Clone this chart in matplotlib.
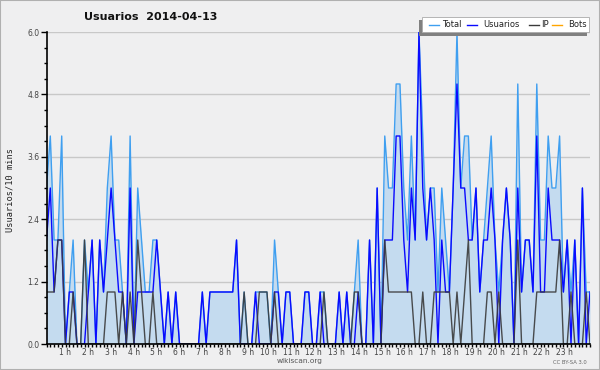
import numpy as np
import matplotlib
matplotlib.use("Agg")
import matplotlib.pyplot as plt
from matplotlib.patches import Rectangle
from matplotlib.lines import Line2D
import matplotlib.transforms as mtransforms

# 10-minute buckets for 2014-04-13 (144 values per series)
total = [
    3, 4, 2, 2, 4, 0, 1, 2, 0, 0,
    2, 1, 2, 0, 2, 1, 3, 4, 2, 2,
    1, 0, 4, 0, 3, 2, 1, 1, 2, 2,
    1, 0, 1, 0, 1, 0, 0, 0, 0, 0,
    0, 1, 0, 1, 1, 1, 1, 1, 1, 1,
    2, 0, 1, 0, 0, 1, 1, 1, 1, 0,
    2, 1, 0, 1, 1, 0, 0, 0, 1, 1,
    0, 0, 1, 1, 0, 0, 0, 1, 0, 1,
    0, 1, 2, 0, 0, 2, 0, 3, 0, 4,
    3, 3, 5, 5, 3, 2, 4, 2, 6, 4,
    2, 3, 3, 1, 3, 2, 1, 3, 6, 3,
    4, 4, 2, 3, 1, 2, 3, 4, 2, 1,
    2, 3, 2, 0, 5, 1, 2, 2, 1, 5,
    2, 2, 4, 3, 3, 4, 1, 2, 1, 2,
    0, 3, 1, 1,
]
usuarios = [
    2, 3, 1, 2, 2, 0, 1, 1, 0, 0,
    0, 1, 2, 0, 2, 1, 2, 3, 2, 1,
    1, 0, 3, 0, 1, 1, 1, 1, 1, 2,
    1, 0, 1, 0, 1, 0, 0, 0, 0, 0,
    0, 1, 0, 1, 1, 1, 1, 1, 1, 1,
    2, 0, 0, 0, 0, 1, 0, 0, 0, 0,
    1, 1, 0, 1, 1, 0, 0, 0, 1, 1,
    0, 0, 1, 0, 0, 0, 0, 1, 0, 1,
    0, 0, 1, 0, 0, 2, 0, 3, 0, 2,
    2, 2, 4, 4, 2, 1, 3, 2, 6, 3,
    2, 3, 2, 0, 2, 1, 1, 3, 5, 3,
    3, 2, 2, 3, 1, 2, 2, 3, 2, 0,
    2, 3, 2, 0, 3, 1, 2, 2, 1, 4,
    1, 1, 3, 2, 2, 2, 1, 2, 0, 2,
    0, 3, 0, 1,
]
ip = [
    1, 1, 1, 2, 2, 0, 0, 1, 0, 0,
    2, 0, 0, 0, 0, 0, 1, 1, 1, 0,
    1, 0, 1, 0, 2, 1, 0, 0, 1, 0,
    0, 0, 0, 0, 0, 0, 0, 0, 0, 0,
    0, 0, 0, 0, 0, 0, 0, 0, 0, 0,
    0, 0, 1, 0, 0, 0, 1, 1, 1, 0,
    1, 0, 0, 0, 0, 0, 0, 0, 0, 0,
    0, 0, 0, 1, 0, 0, 0, 0, 0, 0,
    0, 1, 1, 0, 0, 0, 0, 0, 0, 2,
    1, 1, 1, 1, 1, 1, 1, 0, 0, 1,
    0, 0, 1, 1, 1, 1, 1, 0, 1, 0,
    1, 2, 0, 0, 0, 0, 1, 1, 0, 1,
    0, 0, 0, 0, 2, 0, 0, 0, 0, 1,
    1, 1, 1, 1, 1, 2, 0, 0, 1, 0,
    0, 0, 1, 0,
]
bots = [0] * 144  # no bot activity that day

hours = list(range(1, 24))
hour_labels = [f"{h} h" for h in hours]
y_ticks = [0.0, 1.2, 2.4, 3.6, 4.8, 6.0]

BG = "#efeff0"
C_TOTAL = "#3f9ff0"
C_FILL = "#c4dbef"
C_USERS = "#0a0aff"
C_IP = "#3a3a3a"
C_BOTS = "#ffa500"

W, H = 600, 370
fig = plt.figure(figsize=(W / 100, H / 100), dpi=100, facecolor=BG)


def fx(px):
    return px / W


def fy(py):
    return 1 - py / H


ax = fig.add_axes([fx(46.5), fy(344), fx(590) - fx(46.5), fy(32) - fy(344)])
ax.set_facecolor(BG)

x = np.arange(len(total))
# bots sit at zero the whole day, hidden under the x axis line
ax.plot(x, bots, color=C_BOTS, lw=0.5, zorder=0.3)
ax.fill_between(x, total, color=C_FILL, lw=0, zorder=1)
ax.plot(x, total, color=C_TOTAL, lw=1, zorder=2)
ax.plot(x, usuarios, color=C_USERS, lw=1, zorder=3)
ax.plot(x, ip, color=C_IP, lw=1, alpha=0.9, zorder=4)

ax.set_xlim(0, len(total) - 1)
ax.set_ylim(0, 6.0)

# grid + spines
for v in y_ticks[1:]:
    ax.axhline(v, color="#c8c8c8", lw=1, zorder=0.5)
for s in ("top", "right"):
    ax.spines[s].set_visible(False)
for s in ("left", "bottom"):
    ax.spines[s].set_color("black")
    ax.spines[s].set_linewidth(1.2)
    ax.spines[s].set_zorder(6)

ax.set_yticks(y_ticks)
ax.set_yticklabels([f"{v:.1f}" for v in y_ticks])
ax.set_yticks(np.arange(0, 6.01, 0.3), minor=True)
ax.tick_params(axis="y", which="major", length=4, width=1, pad=1,
               labelsize=5.5, labelcolor="#444444")
ax.tick_params(axis="y", which="minor", length=2.5, width=1)

ax.set_xticks([h * 6 for h in hours])
ax.set_xticklabels(hour_labels)
ax.set_xticks(x, minor=True)
ax.tick_params(axis="x", which="both", length=2.2, width=1, pad=0.6,
               labelsize=5.5, labelcolor="#444444")
shift = mtransforms.ScaledTranslation(2 / 100, 0, fig.dpi_scale_trans)
for lab in ax.get_xticklabels():
    lab.set_horizontalalignment("right")
    lab.set_transform(lab.get_transform() + shift)

# texts
fig.text(fx(151), fy(16.5), "Usuarios  2014-04-13", ha="center", va="center",
         fontsize=8, fontweight="bold", color="#111111")
fig.text(fx(10), fy(190), "Usuarios/10 mins", rotation=90, ha="center",
         va="center", fontsize=6.2, family="DejaVu Sans Mono", color="#222222")
fig.text(fx(300), fy(361.5), "wikiscan.org", ha="center", va="center",
         fontsize=5.3, color="#555555")
fig.text(fx(570), fy(362), "CC BY-SA 3.0", ha="center", va="center",
         fontsize=3.8, color="#666666")

# legend box with grey shadow (left/bottom)
fig.patches.append(Rectangle((fx(419.3), fy(35.5)), fx(587) - fx(419.3),
                             fy(20) - fy(35.5), transform=fig.transFigure,
                             facecolor="#808080", edgecolor="none", zorder=10))
fig.patches.append(Rectangle((fx(421.7), fy(32.3)), fx(589.3) - fx(421.7),
                             fy(17.3) - fy(32.3), transform=fig.transFigure,
                             facecolor="white", edgecolor="#aaaaaa", lw=0.6,
                             zorder=11))
entries = [("Total", C_TOTAL, 429, 442), ("Usuarios", C_USERS, 467, 483),
           ("IP", C_IP, 529, 541.5), ("Bots", C_BOTS, 552, 568)]
for name, col, lx, tx in entries:
    fig.lines.append(Line2D([fx(lx), fx(lx + 10)], [fy(24.5), fy(24.5)],
                            transform=fig.transFigure, color=col, lw=1,
                            zorder=12))
    fig.text(fx(tx), fy(24.8), name, ha="left", va="center", fontsize=6,
             color="#222222", zorder=12)

# outer border
fig.patches.append(Rectangle((0, 0), 1, 1, transform=fig.transFigure,
                             facecolor="none", edgecolor="#b0b0b0", lw=1.5,
                             zorder=20))

fig.savefig("out.png", dpi=100, facecolor=BG)
